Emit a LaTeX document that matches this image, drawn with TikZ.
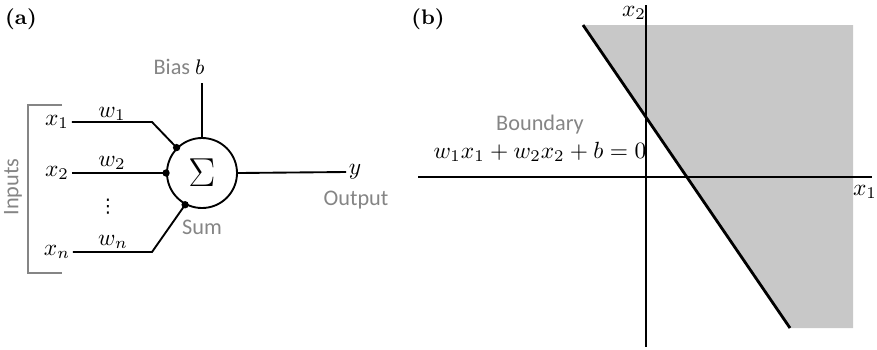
\documentclass[tikz,border=0pt]{standalone}
\usepackage{amsmath,amssymb}
\usepackage{fontspec}
\setsansfont{Carlito}
\newfontfamily\symfont{DejaVu Sans}
\usetikzlibrary{positioning}
\definecolor{cG}{HTML}{858585}
\definecolor{cR}{HTML}{C8C8C8}
\tikzset{
  wire/.style={thick,black},
  tag/.style={font=\sffamily\fontsize{9.5}{10}\selectfont,text=cG,inner sep=1pt},
  var/.style={inner sep=1pt,font=\normalsize},
  jdot/.style={circle,fill=black,inner sep=0pt,minimum size=1.1mm},
  panel/.style={font=\small\bfseries,inner sep=0pt},
  sumnode/.style={circle,draw,thick,minimum size=10.5mm,inner sep=0pt,
                  font=\fontsize{18}{18}\selectfont},
  brace/.style={cG,semithick},
  axis/.style={semithick,black},
  border/.style={very thick,black},
}

\begin{document}
\begin{tikzpicture}[x=0.15mm,y=-0.15mm]
  \useasboundingbox (0,0) rectangle (877,349);

  \node[panel] (pa) at (21,19) {(a)};
  \node[sumnode] (sum) at (202,173) {$\Sigma$};

  \node[var] (x1) at (57,122) {$x_1$};
  \node[var] (x2) at (57,173) {$x_2$};
  \node[var] (xn) at (57,252) {$x_n$};
  \node[inner sep=0pt,font=\symfont\fontsize{8}{8}\selectfont] (vd) at (108,207) {⋮};
  \node[var] (w1) at (112,114) {$w_1$};
  \node[var] (w2) at (112,163) {$w_2$};
  \node[var] (wn) at (113,242) {$w_n$};
  \coordinate (k1) at (152,122);
  \coordinate (kn) at (152,252);
  \coordinate (btop) at (202,83);

  \node[tag,rotate=90] (inp) at (13,187) {Inputs};
  \node[inner sep=1pt] (bias) at (179,67) {\sffamily\fontsize{9.5}{10}\selectfont\color{cG}Bias \color{black}$b$};
  \node[tag] (sumlbl) at (202,227) {Sum};
  \node[var] (yout) at (355,172) {$y$};
  \node[tag] (outlbl) at (356,200) {Output};

  \draw[brace] (62,105) -- (28,105) -- (28,273) -- (62,273);

  \draw[wire] (x1.east) -- (k1) -- (sum.135);
  \draw[wire] (x2.east) -- (sum.180);
  \draw[wire] (xn.east) -- (kn) -- (sum.242);
  \draw[wire] (sum.north) -- (btop);
  \draw[wire] (sum.east) -- (yout.west);
  \foreach \a in {135,180,242}
    \node[jdot] at (sum.\a) {};

  \node[panel] (pb) at (428,19) {(b)};
  \coordinate (lt) at (583,25);
  \coordinate (lb) at (790,328);
  \fill[cR] (lt) -- (853,25) -- (853,328) -- (lb) -- cycle;
  \coordinate (o) at (646,177);
  \draw[axis] (418,177) -- (872,177);
  \draw[axis] (646,5) -- (646,347);
  \draw[border] (lt) -- (lb);

  \node[var] (ax1) at (865,192) {$x_1$};
  \node[var] (ax2) at (634,13) {$x_2$};
  \node[tag] (bnd) at (540,125) {Boundary};
  \node[var] (eq) at (540,152) {$w_1x_1+w_2x_2+b=0$};
\end{tikzpicture}
\end{document}
